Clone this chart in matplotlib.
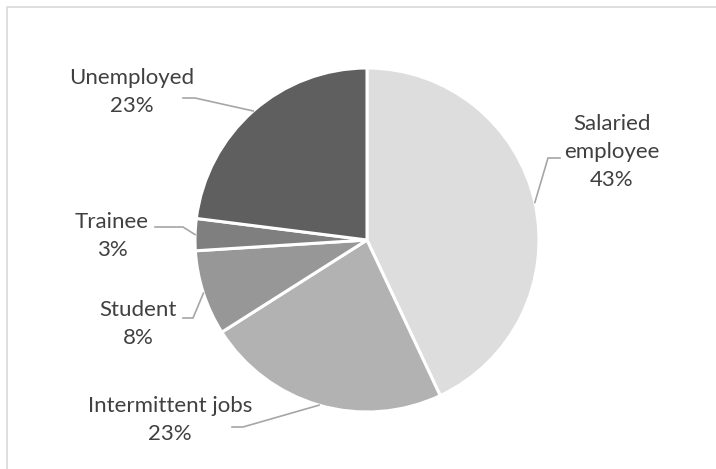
import numpy as np
import matplotlib.pyplot as plt

# 데이터 준비
categories = ['Salaried\nemployee', 'Intermittent jobs', 'Student', 'Trainee', 'Unemployed']
shares = [43, 23, 8, 3, 23]
colors = ['#dddddd', '#b2b2b2', '#979797', '#7f7f7f', '#5f5f5f']

# 라벨 위치(픽셀, 위에서부터), 꺾이는 점, 선 끝점
label_xy = [(612, 152), (170, 420), (138, 324), (112, 236), (132, 92)]
elbow_xy = [(548, 158), (243, 427), (193, 318), (183, 227), (195, 98)]
end_xy = [(560, 158), (232, 427), (183, 318), (155, 227), (183, 98)]

W, H = 716, 469
fig = plt.figure(figsize=(W / 100, H / 100), dpi=100)
ax = fig.add_axes([0, 0, 1, 1])

cx, cy, r = 367, H - 240, 172
wedges, _ = ax.pie(shares, colors=colors, startangle=90, counterclock=False,
                   center=(cx, cy), radius=r, frame=True,
                   wedgeprops=dict(edgecolor='white', linewidth=2.2))
ax.set_xlim(0, W)
ax.set_ylim(0, H)
ax.set_aspect('equal')
ax.axis('off')

total = sum(shares)
for w, name, v, (lx, ly), (ex, ey), (tx, ty) in zip(
        wedges, categories, shares, label_xy, elbow_xy, end_xy):
    mid = np.deg2rad((w.theta1 + w.theta2) / 2)
    px, py = cx + r * np.cos(mid), cy + r * np.sin(mid)
    ax.plot([px, ex, tx], [py, H - ey, H - ty], color='#a6a6a6', lw=1.2,
            solid_joinstyle='miter')
    ax.text(lx, H - ly, f'{name}\n{round(v / total * 100)}%', ha='center',
            va='center', fontsize=16, color='#404040', family='Lato',
            linespacing=1.5)

# 차트 영역 테두리
ax.plot([7, 7, W], [0, H - 7, H - 7], color='#d9d9d9', lw=1.2)

fig.savefig('out.png', dpi=100, facecolor='white')
